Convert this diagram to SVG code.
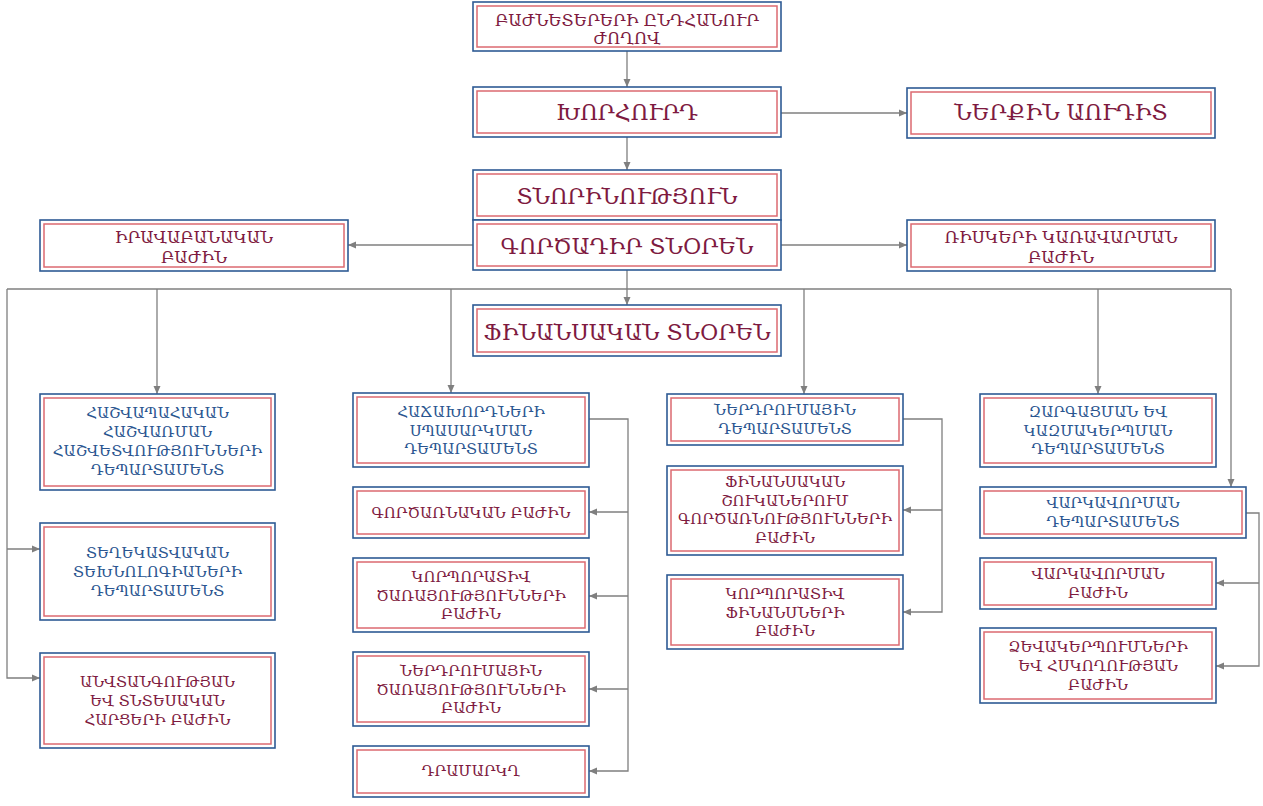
<svg xmlns="http://www.w3.org/2000/svg" width="1263" height="806" viewBox="0 0 1263 806">
<style>
.o{fill:#fff;stroke:#2e5a94;stroke-width:1.6}
.i{fill:none;stroke:#dc6a70;stroke-width:1.5}
text{font-family:"DejaVu Serif","DejaVu Sans",serif;text-anchor:middle;dominant-baseline:central}
.m{fill:#7e1a40}
.b{fill:#2a5590}
.t1{font-size:22px}
.t2{font-size:16.5px}
.t3{font-size:15px}
.c{fill:none;stroke:#7f7f7f;stroke-width:1.3}
</style>
<defs>
<marker id="a" markerUnits="userSpaceOnUse" markerWidth="8" markerHeight="8" refX="8" refY="4" orient="auto">
<path d="M0,0.5 L8,4 L0,7.5 z" fill="#7f7f7f"/>
</marker>
</defs>
<rect width="1263" height="806" fill="#fff"/>
<g id="connectors">
<path class="c" d="M627,51 V87" marker-end="url(#a)"/>
<path class="c" d="M627,137 V170" marker-end="url(#a)"/>
<path class="c" d="M781,113 H907" marker-end="url(#a)"/>
<path class="c" d="M473,245 H348" marker-end="url(#a)"/>
<path class="c" d="M781,245 H907" marker-end="url(#a)"/>
<path class="c" d="M7,289 H1231"/>
<path class="c" d="M627,270 V305" marker-end="url(#a)"/>
<path class="c" d="M157,289 V394" marker-end="url(#a)"/>
<path class="c" d="M451,289 V393" marker-end="url(#a)"/>
<path class="c" d="M804,289 V394" marker-end="url(#a)"/>
<path class="c" d="M1098,289 V394" marker-end="url(#a)"/>
<path class="c" d="M1231,289 V487" marker-end="url(#a)"/>
<path class="c" d="M7,289 V678 H40" marker-end="url(#a)"/>
<path class="c" d="M7,549 H40" marker-end="url(#a)"/>
<path class="c" d="M589,419 H628 V771 H589" marker-end="url(#a)"/>
<path class="c" d="M628,512 H589" marker-end="url(#a)"/>
<path class="c" d="M628,596 H589" marker-end="url(#a)"/>
<path class="c" d="M628,689 H589" marker-end="url(#a)"/>
<path class="c" d="M903,419 H942 V612 H903" marker-end="url(#a)"/>
<path class="c" d="M942,510 H903" marker-end="url(#a)"/>
<path class="c" d="M1246,513 H1259 V666 H1216" marker-end="url(#a)"/>
<path class="c" d="M1259,583 H1216" marker-end="url(#a)"/>
</g>
<g id="n1"><rect class="o" x="473" y="2" width="308" height="49"/><rect class="i" x="477" y="6" width="300" height="41"/>
<text class="m t2"><tspan x="627" y="20">ԲԱԺՆԵՏԵՐԵՐԻ ԸՆԴՀԱՆՈՒՐ</tspan><tspan x="627" y="38">ԺՈՂՈՎ</tspan></text></g>
<g id="n2"><rect class="o" x="473" y="87" width="308" height="50"/><rect class="i" x="477" y="91" width="300" height="42"/>
<text class="m t1" x="627" y="112">ԽՈՐՀՈՒՐԴ</text></g>
<g id="n3"><rect class="o" x="907" y="88" width="308" height="50"/><rect class="i" x="911" y="92" width="300" height="42"/>
<text class="m t1" x="1061" y="112">ՆԵՐՔԻՆ ԱՈՒԴԻՏ</text></g>
<g id="n4"><rect class="o" x="473" y="170" width="308" height="50"/><rect class="i" x="477" y="174" width="300" height="42"/>
<text class="m t1" x="627" y="196">ՏՆՈՐԻՆՈՒԹՅՈՒՆ</text></g>
<g id="n5"><rect class="o" x="473" y="220" width="308" height="50"/><rect class="i" x="477" y="224" width="300" height="42"/>
<text class="m t1" x="627" y="246">ԳՈՐԾԱԴԻՐ ՏՆՕՐԵՆ</text></g>
<g id="n6"><rect class="o" x="40" y="220" width="308" height="51"/><rect class="i" x="44" y="224" width="300" height="43"/>
<text class="m t2"><tspan x="194" y="237">ԻՐԱՎԱԲԱՆԱԿԱՆ</tspan><tspan x="194" y="257">ԲԱԺԻՆ</tspan></text></g>
<g id="n7"><rect class="o" x="907" y="220" width="308" height="51"/><rect class="i" x="911" y="224" width="300" height="43"/>
<text class="m t2"><tspan x="1061" y="237">ՌԻՍԿԵՐԻ ԿԱՌԱՎԱՐՄԱՆ</tspan><tspan x="1061" y="257">ԲԱԺԻՆ</tspan></text></g>
<g id="n8"><rect class="o" x="473" y="305" width="308" height="51"/><rect class="i" x="477" y="309" width="300" height="43"/>
<text class="m t1" x="627" y="332">ՖԻՆԱՆՍԱԿԱՆ ՏՆՕՐԵՆ</text></g>
<g id="n9"><rect class="o" x="40" y="394" width="235" height="96"/><rect class="i" x="44" y="398" width="227" height="88"/>
<text class="b t3"><tspan x="157.5" y="413">ՀԱՇՎԱՊԱՀԱԿԱՆ</tspan><tspan x="157.5" y="432">ՀԱՇՎԱՌՄԱՆ</tspan><tspan x="157.5" y="451">ՀԱՇՎԵՏՎՈՒԹՅՈՒՆՆԵՐԻ</tspan><tspan x="157.5" y="470">ԴԵՊԱՐՏԱՄԵՆՏ</tspan></text></g>
<g id="n10"><rect class="o" x="40" y="523" width="235" height="97"/><rect class="i" x="44" y="527" width="227" height="89"/>
<text class="b t3"><tspan x="157.5" y="553">ՏԵՂԵԿԱՏՎԱԿԱՆ</tspan><tspan x="157.5" y="572">ՏԵԽՆՈԼՈԳԻԱՆԵՐԻ</tspan><tspan x="157.5" y="591">ԴԵՊԱՐՏԱՄԵՆՏ</tspan></text></g>
<g id="n11"><rect class="o" x="40" y="653" width="235" height="95"/><rect class="i" x="44" y="657" width="227" height="87"/>
<text class="m t3"><tspan x="157.5" y="682">ԱՆՎՏԱՆԳՈՒԹՅԱՆ</tspan><tspan x="157.5" y="701">ԵՎ ՏՆՏԵՍԱԿԱՆ</tspan><tspan x="157.5" y="720">ՀԱՐՑԵՐԻ ԲԱԺԻՆ</tspan></text></g>
<g id="n12"><rect class="o" x="353" y="393" width="236" height="74"/><rect class="i" x="357" y="397" width="228" height="66"/>
<text class="b t3"><tspan x="471" y="412">ՀԱՃԱԽՈՐԴՆԵՐԻ</tspan><tspan x="471" y="430.5">ՍՊԱՍԱՐԿՄԱՆ</tspan><tspan x="471" y="449">ԴԵՊԱՐՏԱՄԵՆՏ</tspan></text></g>
<g id="n13"><rect class="o" x="353" y="487" width="236" height="51"/><rect class="i" x="357" y="491" width="228" height="43"/>
<text class="m t3" x="471" y="512.5">ԳՈՐԾԱՌՆԱԿԱՆ ԲԱԺԻՆ</text></g>
<g id="n14"><rect class="o" x="353" y="558" width="236" height="74"/><rect class="i" x="357" y="562" width="228" height="66"/>
<text class="m t3"><tspan x="471" y="577">ԿՈՐՊՈՐԱՏԻՎ</tspan><tspan x="471" y="595.5">ԾԱՌԱՅՈՒԹՅՈՒՆՆԵՐԻ</tspan><tspan x="471" y="614">ԲԱԺԻՆ</tspan></text></g>
<g id="n15"><rect class="o" x="353" y="652" width="236" height="74"/><rect class="i" x="357" y="656" width="228" height="66"/>
<text class="m t3"><tspan x="471" y="671">ՆԵՐԴՐՈՒՄԱՅԻՆ</tspan><tspan x="471" y="689.5">ԾԱՌԱՅՈՒԹՅՈՒՆՆԵՐԻ</tspan><tspan x="471" y="708">ԲԱԺԻՆ</tspan></text></g>
<g id="n16"><rect class="o" x="353" y="746" width="236" height="51"/><rect class="i" x="357" y="750" width="228" height="43"/>
<text class="m t3" x="471" y="771">ԴՐԱՄԱՐԿՂ</text></g>
<g id="n17"><rect class="o" x="667" y="394" width="236" height="51"/><rect class="i" x="671" y="398" width="228" height="43"/>
<text class="b t3"><tspan x="785" y="410">ՆԵՐԴՐՈՒՄԱՅԻՆ</tspan><tspan x="785" y="428.5">ԴԵՊԱՐՏԱՄԵՆՏ</tspan></text></g>
<g id="n18"><rect class="o" x="667" y="466" width="236" height="89"/><rect class="i" x="671" y="470" width="228" height="81"/>
<text class="m t3"><tspan x="785" y="482">ՖԻՆԱՆՍԱԿԱՆ</tspan><tspan x="785" y="500.5">ՇՈՒԿԱՆԵՐՈՒՄ</tspan><tspan x="785" y="519">ԳՈՐԾԱՌՆՈՒԹՅՈՒՆՆԵՐԻ</tspan><tspan x="785" y="537.5">ԲԱԺԻՆ</tspan></text></g>
<g id="n19"><rect class="o" x="667" y="575" width="236" height="74"/><rect class="i" x="671" y="579" width="228" height="66"/>
<text class="m t3"><tspan x="785" y="594">ԿՈՐՊՈՐԱՏԻՎ</tspan><tspan x="785" y="612.5">ՖԻՆԱՆՍՆԵՐԻ</tspan><tspan x="785" y="631">ԲԱԺԻՆ</tspan></text></g>
<g id="n20"><rect class="o" x="980" y="394" width="236" height="73"/><rect class="i" x="984" y="398" width="228" height="65"/>
<text class="b t3"><tspan x="1098" y="412">ԶԱՐԳԱՑՄԱՆ ԵՎ</tspan><tspan x="1098" y="430.5">ԿԱԶՄԱԿԵՐՊՄԱՆ</tspan><tspan x="1098" y="449">ԴԵՊԱՐՏԱՄԵՆՏ</tspan></text></g>
<g id="n21"><rect class="o" x="980" y="487" width="266" height="51"/><rect class="i" x="984" y="491" width="258" height="43"/>
<text class="b t3"><tspan x="1113" y="503">ՎԱՐԿԱՎՈՐՄԱՆ</tspan><tspan x="1113" y="522">ԴԵՊԱՐՏԱՄԵՆՏ</tspan></text></g>
<g id="n22"><rect class="o" x="980" y="558" width="236" height="51"/><rect class="i" x="984" y="562" width="228" height="43"/>
<text class="m t3"><tspan x="1098" y="574">ՎԱՐԿԱՎՈՐՄԱՆ</tspan><tspan x="1098" y="593">ԲԱԺԻՆ</tspan></text></g>
<g id="n23"><rect class="o" x="980" y="628" width="236" height="75"/><rect class="i" x="984" y="632" width="228" height="67"/>
<text class="m t3"><tspan x="1098" y="647">ՁԵՎԱԿԵՐՊՈՒՄՆԵՐԻ</tspan><tspan x="1098" y="666">ԵՎ ՀՍԿՈՂՈՒԹՅԱՆ</tspan><tspan x="1098" y="685">ԲԱԺԻՆ</tspan></text></g>
</svg>
